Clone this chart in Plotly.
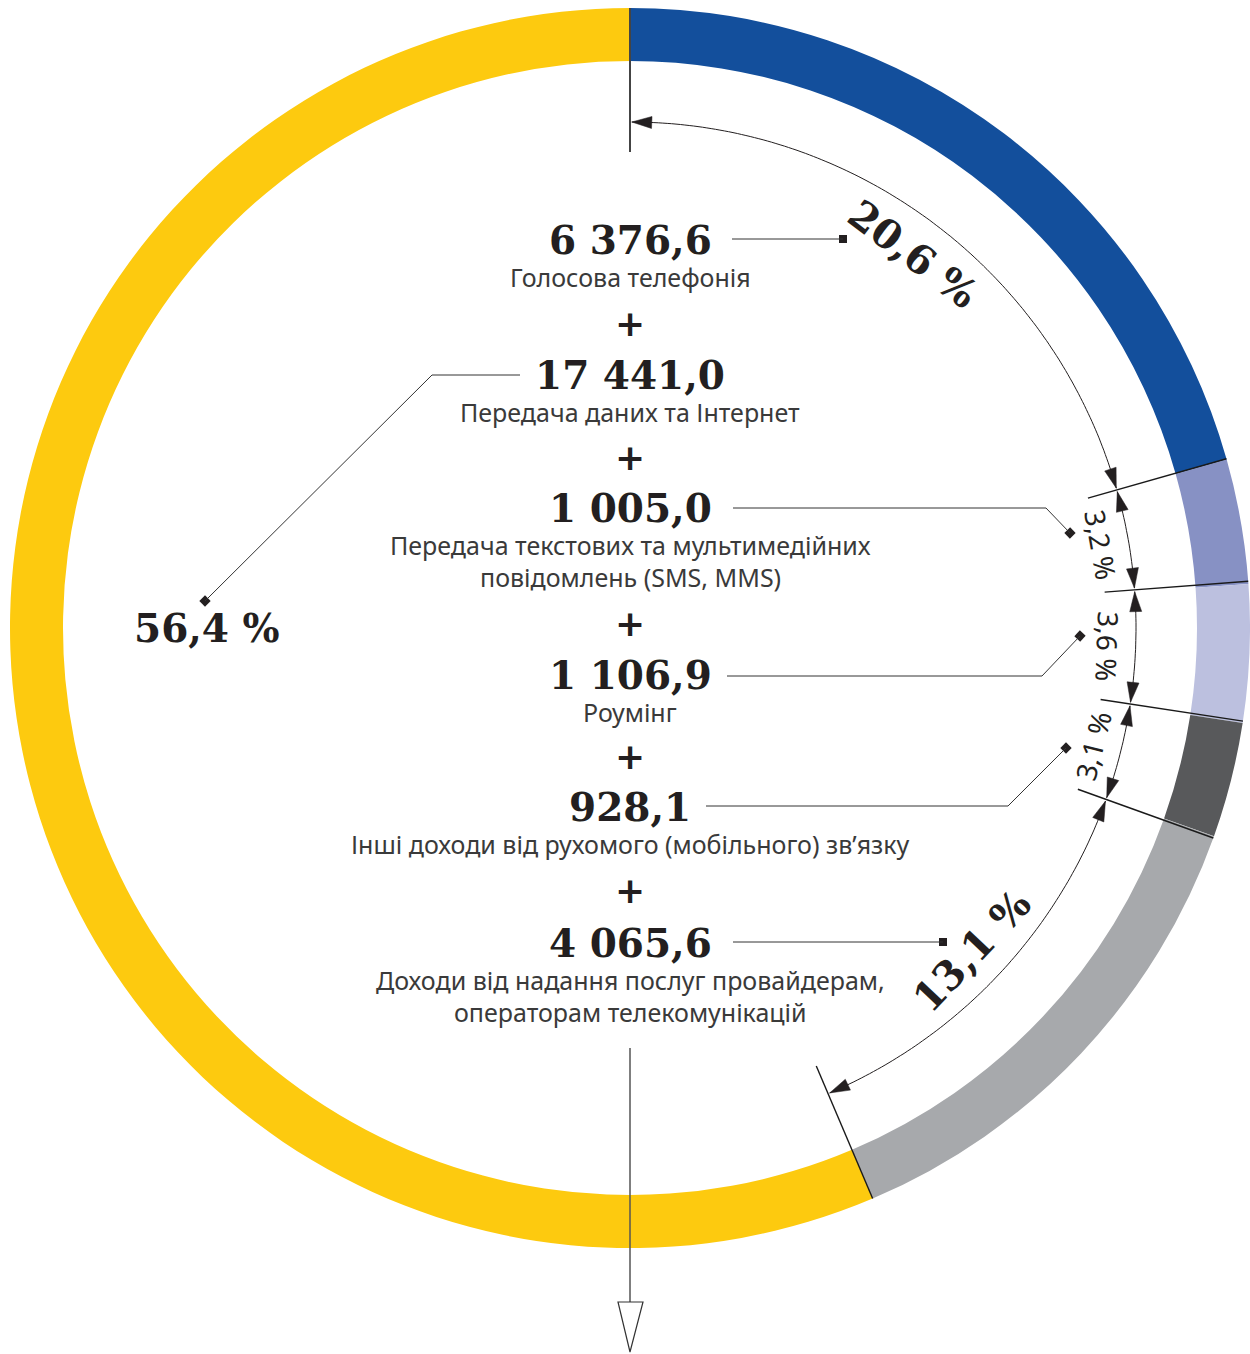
import math
import plotly.graph_objects as go

# ring order, clockwise from 12 o'clock
categories = [
    "Голосова телефонія",
    "Передача текстових та мультимедійних<br>повідомлень (SMS, MMS)",
    "Роумінг",
    "Інші доходи від рухомого (мобільного) зв’язку",
    "Доходи від надання послуг провайдерам,<br>операторам телекомунікацій",
    "Передача даних та Інтернет",
]
values = [6376.6, 1005.0, 1106.9, 928.1, 4065.6, 17441.0]
shares = [20.6, 3.2, 3.6, 3.1, 13.1, 56.4]
colors = ["#134f9c", "#8791c4", "#bcc0df", "#58595b", "#a7a9ac", "#fdca0f"]

# order of the list written inside the ring
center_order = [0, 5, 1, 2, 3, 4]

W, H = 1250, 1354
cx, cy = 630, 628
R_OUT, R_IN = 620, 567
R_DIM = 506
INK = "#231f20"


def pt(r, deg):
    a = math.radians(deg)
    return cx + r * math.sin(a), cy - r * math.cos(a)


def fmt(v):
    return f"{v:,.1f}".replace(",", " ").replace(".", ",")


def pct(s):
    return f"{s:.1f}".replace(".", ",") + " %"


fig = go.Figure()

fig.add_trace(go.Pie(
    values=values, labels=categories, sort=False, direction="clockwise",
    rotation=0, hole=R_IN / R_OUT, textinfo="none", hoverinfo="skip",
    marker=dict(colors=colors, line=dict(width=0)), showlegend=False,
    domain=dict(x=[(cx - R_OUT) / W, (cx + R_OUT) / W],
                y=[1 - (cy + R_OUT) / H, 1 - (cy - R_OUT) / H]),
))

shapes = []
annotations = []

# boundaries of the measured slices (all but the last, biggest one)
cum = [0.0]
for s in shares[:-1]:
    cum.append(cum[-1] + s)
bounds = [c * 3.6 for c in cum]

for i, b in enumerate(bounds):
    x0, y0 = pt(476, b)
    x1, y1 = pt(R_OUT, b)
    shapes.append(dict(type="line", x0=x0, y0=y0, x1=x1, y1=y1,
                       line=dict(color="#444444" if i == 0 else "#1a1a1a",
                                 width=2 if i == 0 else 1.4)))


def arrowhead(tip_deg, back_sign, length=20, half=6):
    tip = pt(R_DIM, tip_deg)
    d = math.degrees(length / R_DIM) * back_sign
    b_in = pt(R_DIM - half, tip_deg + d)
    b_out = pt(R_DIM + half, tip_deg + d)
    return dict(type="path", path=f"M{tip[0]},{tip[1]} L{b_in[0]},{b_in[1]} L{b_out[0]},{b_out[1]} Z",
                fillcolor=INK, line=dict(color=INK, width=0.5))


for i in range(len(bounds) - 1):
    a0, a1 = bounds[i], bounds[i + 1]
    a0t = a0 + 0.2
    a1t = a1 - 0.2
    n = max(8, int((a1t - a0t) * 2))
    pts = [pt(R_DIM, a0t + (a1t - a0t) * k / n) for k in range(n + 1)]
    path = "M" + " L".join(f"{x:.1f},{y:.1f}" for x, y in pts)
    shapes.append(dict(type="path", path=path, line=dict(color=INK, width=1)))
    shapes.append(arrowhead(a0t, 1))
    shapes.append(arrowhead(a1t, -1))

    mid = (a0 + a1) / 2
    big = shares[i] >= 10
    lx, ly = pt(470 if big else 478, mid)
    if big:
        font = dict(family="DejaVu Serif", size=40, color=INK, weight="bold")
    else:
        font = dict(family="Noto Sans", size=28, color=INK)
    annotations.append(dict(x=lx, y=ly, text=pct(shares[i]), showarrow=False,
                            textangle=mid if mid < 100 else mid - 180, font=font,
                            xanchor="center", yanchor="middle"))

# share of the biggest slice, written on the left
annotations.append(dict(x=207, y=628, text=pct(shares[-1]), showarrow=False,
                        font=dict(family="DejaVu Serif", size=39, color=INK, weight="bold"),
                        xanchor="center", yanchor="middle"))

# list inside the ring
num_y = [240, 375, 508, 675, 807, 943]
label_gap, line_gap = 37, 32
last_label_y = []
for k, idx in enumerate(center_order):
    annotations.append(dict(x=cx, y=num_y[k], text=fmt(values[idx]), showarrow=False,
                            font=dict(family="DejaVu Serif", size=39, color=INK, weight="bold"),
                            xanchor="center", yanchor="middle"))
    lines = categories[idx].split("<br>")
    for j, line in enumerate(lines):
        annotations.append(dict(x=cx, y=num_y[k] + label_gap + j * line_gap, text=line,
                                showarrow=False,
                                font=dict(family="Noto Sans", size=25, color="#3a3a3a"),
                                xanchor="center", yanchor="middle"))
    last_label_y.append(num_y[k] + label_gap + (len(lines) - 1) * line_gap)

for k in range(len(center_order) - 1):
    py = (last_label_y[k] + num_y[k + 1]) / 2 - 3
    annotations.append(dict(x=cx, y=py, text="+", showarrow=False,
                            font=dict(family="DejaVu Sans", size=36, color=INK, weight="bold"),
                            xanchor="center", yanchor="middle"))

# leader lines from the numbers to the shares
leaders = [
    [(732, 239), (843, 239)],
    [(520, 375), (432, 375), (205, 601)],
    [(733, 508), (1046, 508), (1070, 533)],
    [(727, 676), (1042, 676), (1080, 636)],
    [(706, 806), (1008, 806), (1066, 748)],
    [(733, 942), (943, 942)],
]
mx, my, mang = [], [], []
for ld in leaders:
    path = "M" + " L".join(f"{x},{y}" for x, y in ld)
    shapes.append(dict(type="path", path=path, line=dict(color="#333333", width=1)))
    (xa, ya), (xb, yb) = ld[-2], ld[-1]
    mx.append(xb)
    my.append(yb)
    mang.append(math.degrees(math.atan2(yb - ya, xb - xa)))

fig.add_trace(go.Scatter(x=mx, y=my, mode="markers", hoverinfo="skip", showlegend=False,
                         marker=dict(symbol="square", size=8, color=INK, angle=mang)))

# arrow leaving the ring at the bottom
shapes.append(dict(type="line", x0=cx, y0=1048, x1=cx, y1=1350,
                   line=dict(color="#555555", width=1.5)))
shapes.append(dict(type="path", path=f"M{cx - 12},1302 L{cx + 13},1302 L{cx},1352 Z",
                   fillcolor="white", line=dict(color="#333333", width=1.2)))

fig.update_layout(
    width=W, height=H, margin=dict(l=0, r=0, t=0, b=0),
    paper_bgcolor="white", plot_bgcolor="rgba(0,0,0,0)",
    xaxis=dict(range=[0, W], visible=False, fixedrange=True),
    yaxis=dict(range=[H, 0], visible=False, fixedrange=True),
    shapes=shapes, annotations=annotations, showlegend=False,
)

# page margin would push the figure 8px right and down
fig.write_html("out.html", config={"displayModeBar": False},
               post_script="document.body.style.margin='0px';")
